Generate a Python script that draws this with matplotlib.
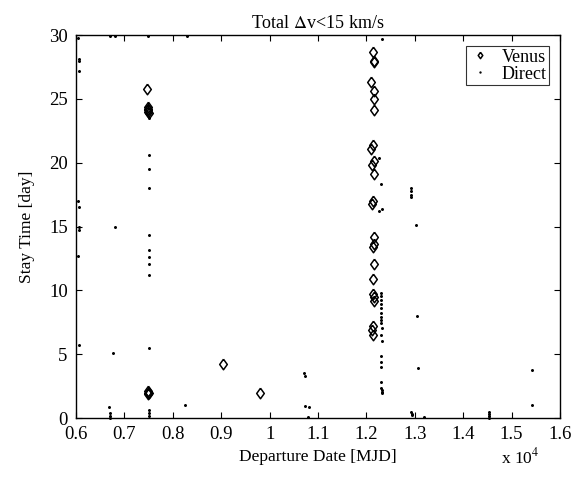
import numpy as np
import matplotlib
matplotlib.use('Agg')
import matplotlib.pyplot as plt
from matplotlib.ticker import FuncFormatter

plt.rcParams['font.family'] = ['Liberation Serif', 'DejaVu Serif']
plt.rcParams['mathtext.fontset'] = 'stix'

# Venus swing-by solutions: departure date [MJD], stay time [day]
venus_mjd = [7470, 7490, 7495, 7485, 7500, 7490, 7480, 7495, 7490, 7500,
             9040, 9800,
             12140, 12160, 12160, 12090, 12150, 12160, 12150,
             12140, 12100, 12150, 12120, 12160, 12130, 12110,
             12160, 12150, 12140, 12150, 12140, 12130, 12150, 12160,
             12130, 12120, 12130]
venus_stay = [25.8, 24.4, 24.2, 24.0, 23.9, 24.1, 2.0, 1.9, 2.1, 2.0,
              4.2, 2.0,
              28.7, 28.0, 27.9, 26.3, 25.6, 25.0, 24.1,
              21.4, 21.1, 20.1, 19.8, 19.1, 17.0, 16.8,
              14.2, 13.6, 13.4, 12.1, 10.9, 9.7, 9.45, 9.2,
              7.2, 6.9, 6.5]

# Direct solutions
direct_mjd = [6050, 6060, 6060, 6060, 6050, 6060, 6060, 6060, 6050, 6070,
              6700, 6800, 6800, 6760, 6690, 6700, 6700, 6700,
              7490, 7500, 7500, 7500, 7500, 7500, 7500, 7500, 7500, 7500,
              7500, 7500, 7500, 7500, 8290, 8250,
              10720, 10740, 10740, 10810, 10800,
              12320, 12250, 12300, 12320, 12260,
              12300, 12300, 12300, 12300, 12300, 12300, 12300, 12300, 12300,
              12320, 12300, 12320, 12300, 12300, 12300, 12300, 12300, 12320,
              12320, 12320,
              12920, 12920, 12920, 12920, 13020, 13040, 13060,
              12930, 12940, 12950, 13190,
              14540, 14540, 14540, 14540, 15430, 15430]
direct_stay = [29.8, 28.1, 28.0, 27.2, 17.0, 16.5, 15.0, 14.7, 12.7, 5.7,
               29.9, 29.9, 15.0, 5.1, 0.9, 0.4, 0.2, 0.0,
               29.9, 23.5, 20.6, 19.5, 18.0, 14.3, 13.2, 12.6, 12.1, 11.2,
               5.5, 0.6, 0.4, 0.2, 29.9, 1.0,
               3.55, 3.3, 0.96, 0.84, 0.05,
               29.7, 20.4, 18.3, 16.4, 16.2,
               9.8, 9.55, 9.24, 8.93, 8.59, 8.2, 7.93, 7.67, 7.41,
               7.02, 6.5, 6.05, 4.86, 4.41, 4.02, 2.84, 2.33, 2.06,
               1.93, 2.2,
               18.0, 17.8, 17.5, 17.3, 15.1, 8.0, 3.9,
               0.5, 0.35, 0.25, 0.05,
               0.5, 0.3, 0.15, 0.0, 3.8, 1.0]

# MATLAB-style diamond (a bit wider than matplotlib's thin diamond)
diamond = [(0, 1), (0.72, 0), (0, -1), (-0.72, 0), (0, 1)]

fig = plt.figure(figsize=(5.87, 4.8), dpi=100)
ax = fig.add_axes([0.1295, 0.129, 0.8245, 0.798])

ax.plot(venus_mjd, venus_stay, marker=diamond, ls='none', mfc='none',
        mec='black', ms=7.6, mew=1.1, label='Venus', clip_on=False)
ax.plot(direct_mjd, direct_stay, '.', color='black', ms=2.3,
        label='Direct', clip_on=False)

ax.set_xlim(6000, 16000)
ax.set_ylim(0, 30)
ax.set_xticks(np.arange(6000, 16001, 1000))
ax.set_yticks(np.arange(0, 31, 5))
ax.xaxis.set_major_formatter(FuncFormatter(lambda v, p: '%g' % (v / 1e4)))
ax.tick_params(direction='in', top=True, right=True, length=4, width=0.8,
               labelsize=13.5, pad=6)
for s in ax.spines.values():
    s.set_linewidth(1.0)

ax.set_title('Total $\\Delta$v<15 km/s', fontsize=13, pad=5)
ax.set_xlabel('Departure Date [MJD]', fontsize=12.5, labelpad=4)
ax.set_ylabel('Stay Time [day]', fontsize=12.5, labelpad=10)
fig.text(0.853, 0.026, 'x 10$^4$', fontsize=12.5, ha='left', va='bottom')

leg = ax.legend(loc='upper right', fontsize=13, frameon=True, fancybox=False,
                borderpad=0.15, handlelength=1.2, handletextpad=0.6,
                labelspacing=0.0, borderaxespad=0.6, markerscale=0.6)
leg.get_frame().set_edgecolor('black')
leg.get_frame().set_linewidth(0.8)

fig.savefig('out.png', dpi=100)
